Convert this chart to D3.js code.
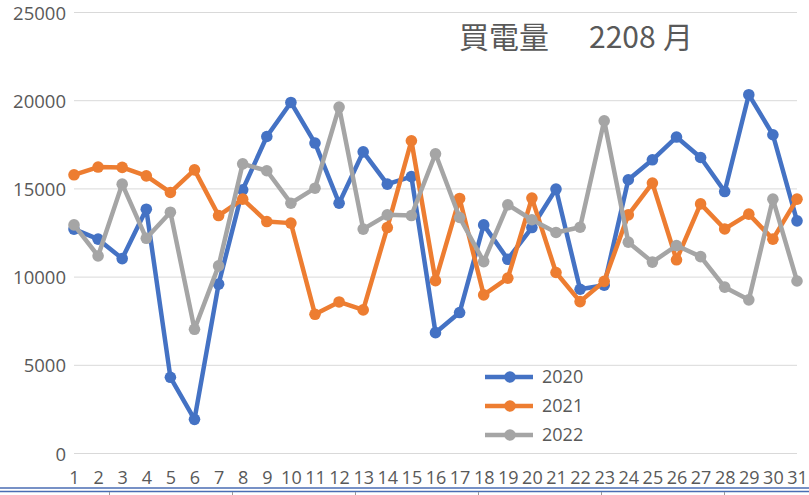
<!DOCTYPE html>
<html>
<head>
<meta charset="utf-8">
<script src="https://cdn.jsdelivr.net/npm/d3@7/dist/d3.min.js"></script>
<style>
  html, body { margin: 0; padding: 0; background: #fff; }
  svg { display: block; }
</style>
</head>
<body>
<svg id="chart" width="809" height="495"></svg>
<script>
const days = ["1","2","3","4","5","6","7","8","9","10","11","12","13","14","15","16","17","18","19","20","21","22","23","24","25","26","27","28","29","30","31"];
const seriesNames = ["2020", "2021", "2022"];
const s2020 = [12720,12150,11050,13850,4320,1935,9600,14950,17970,19900,17600,14190,17100,15270,15700,6850,7990,12960,11010,12810,14990,9310,9540,15520,16650,17940,16780,14850,20340,18070,13190];
const s2021 = [15800,16240,16220,15740,14800,16080,13490,14420,13150,13060,7890,8590,8140,12810,17730,9800,14460,8990,9940,14480,10260,8610,9760,13530,15330,10980,14150,12730,13570,12150,14420];
const s2022 = [12960,11200,15270,12200,13680,7040,10635,16420,16030,14190,15040,19640,12720,13530,13490,16990,13380,10880,14100,13250,12530,12830,18860,11980,10850,11790,11160,9430,8710,14420,9780];
const yTicks = [0, 5000, 10000, 15000, 20000, 25000];
const colors = ["#4472C4", "#ED7D31", "#A5A5A5"];
const titleMain = "買電量";
const titleNum = "2208";
const titleUnit = "月";

const svg = d3.select("#chart");
const textColor = "#595959";
const font = "'Open Sans', 'Liberation Sans', sans-serif";

const x = d3.scalePoint().domain(days).range([74, 797]).padding(0);
const y = d3.scaleLinear().domain([0, 25000]).range([453.5, 12.5]);

// gridlines
svg.append("g").selectAll("line").data(yTicks).join("line")
  .attr("x1", 74).attr("x2", 797)
  .attr("y1", d => y(d)).attr("y2", d => y(d))
  .attr("stroke", "#d9d9d9").attr("stroke-width", 1);

// y axis labels
const yAxis = d3.axisLeft(y).tickValues(yTicks).tickSize(0).tickPadding(0).tickFormat(d3.format("d"));
const gy = svg.append("g").attr("transform", "translate(66,0)").call(yAxis);
gy.select(".domain").remove();
gy.selectAll("text").attr("fill", textColor).attr("font-family", font).attr("font-size", 18.5)
  .attr("dy", "0.36em");

// x axis labels
const xAxis = d3.axisBottom(x).tickSize(0).tickPadding(0);
const gx = svg.append("g").attr("transform", "translate(0,471)").call(xAxis);
gx.select(".domain").remove();
gx.selectAll("text").attr("fill", textColor).attr("font-family", font).attr("font-size", 18)
  .attr("dy", "0.72em");

// lines
const allSeries = [s2020, s2021, s2022];
const line = d3.line().x((d, i) => x(days[i])).y(d => y(d));
allSeries.forEach((s, k) => {
  const g = svg.append("g");
  g.append("path").datum(s).attr("d", line)
    .attr("fill", "none").attr("stroke", colors[k]).attr("stroke-width", 4.5)
    .attr("stroke-linejoin", "round").attr("stroke-linecap", "round");
  g.selectAll("circle").data(s).join("circle")
    .attr("cx", (d, i) => x(days[i])).attr("cy", d => y(d)).attr("r", 5.8)
    .attr("fill", colors[k]);
});

// legend
const legY = [377, 406, 435];
seriesNames.forEach((n, k) => {
  const g = svg.append("g");
  g.append("line").attr("x1", 485).attr("x2", 533).attr("y1", legY[k]).attr("y2", legY[k])
    .attr("stroke", colors[k]).attr("stroke-width", 4.5);
  g.append("circle").attr("cx", 510).attr("cy", legY[k]).attr("r", 5.8).attr("fill", colors[k]);
  g.append("text").attr("x", 542).attr("y", legY[k] + 6).text(n)
    .attr("fill", textColor).attr("font-family", font).attr("font-size", 18);
});

// title
const t = svg.append("text").attr("y", 48).attr("fill", textColor)
  .attr("font-family", "'Noto Sans CJK JP', 'Noto Sans', sans-serif").attr("font-size", 30);
t.append("tspan").attr("x", 459).text(titleMain);
t.append("tspan").attr("x", 589).text(titleNum);
t.append("tspan").attr("x", 663).text(titleUnit);

// bottom window border artifact
svg.append("line").attr("x1", 0).attr("x2", 809).attr("y1", 488).attr("y2", 488)
  .attr("stroke", "#4a6db3").attr("stroke-width", 1.5);
svg.append("line").attr("x1", 0).attr("x2", 809).attr("y1", 491.5).attr("y2", 491.5)
  .attr("stroke", "#4a6db3").attr("stroke-width", 1.5);
svg.append("g").selectAll("line").data([109.5, 232.5, 355.5, 478.5, 601.5, 724.5]).join("line")
  .attr("x1", d => d).attr("x2", d => d).attr("y1", 492).attr("y2", 495)
  .attr("stroke", "#9a9a9a").attr("stroke-width", 1);
</script>
</body>
</html>
